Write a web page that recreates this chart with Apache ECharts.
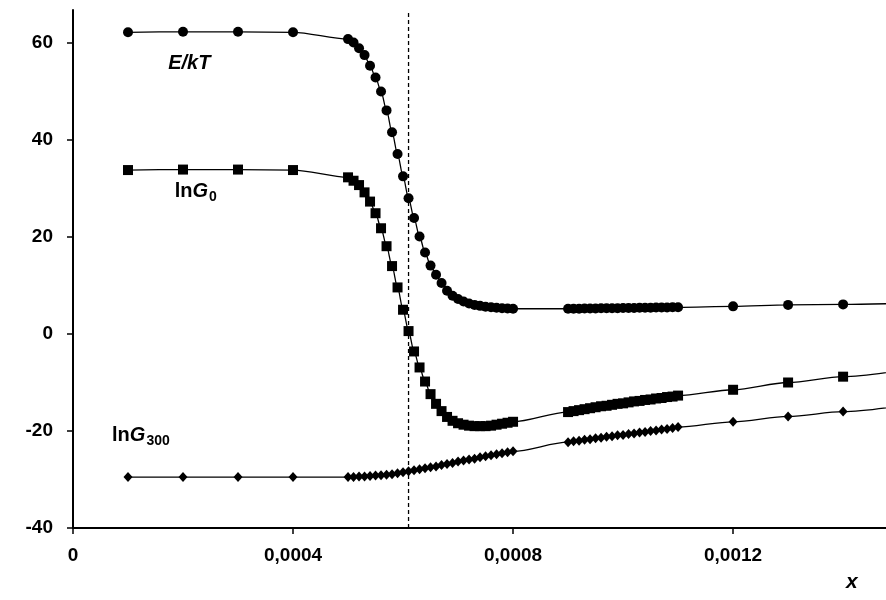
<!DOCTYPE html>
<html>
<head>
<meta charset="utf-8">
<script src="https://cdn.jsdelivr.net/npm/echarts@6/dist/echarts.min.js"></script>
<style>
  html, body { margin: 0; padding: 0; background: #fff; }
  #chart { width: 886px; height: 600px; }
</style>
</head>
<body>
<div id="chart"></div>
<script>
// x positions of the computed points
const xFlat = [0.0001, 0.0002, 0.0003, 0.0004];
const xDrop = [0.0005, 0.00051, 0.00052, 0.00053, 0.00054, 0.00055, 0.00056, 0.00057, 0.00058, 0.00059,
  0.0006, 0.00061, 0.00062, 0.00063, 0.00064, 0.00065, 0.00066, 0.00067, 0.00068, 0.00069,
  0.0007, 0.00071, 0.00072, 0.00073, 0.00074, 0.00075, 0.00076, 0.00077, 0.00078, 0.00079, 0.0008];
const xCluster = [0.0009, 0.00091, 0.00092, 0.00093, 0.00094, 0.00095, 0.00096, 0.00097, 0.00098, 0.00099,
  0.001, 0.00101, 0.00102, 0.00103, 0.00104, 0.00105, 0.00106, 0.00107, 0.00108, 0.00109, 0.0011];
const xTail = [0.0012, 0.0013, 0.0014, 0.0015];

// E/kT
const eFlat = [62.2, 62.3, 62.3, 62.2];
const eDrop = [60.8, 60.1, 58.9, 57.5, 55.3, 52.9, 50.0, 46.1, 41.6, 37.1,
  32.5, 28.0, 23.9, 20.1, 16.8, 14.1, 12.2, 10.5, 8.9, 7.9,
  7.2, 6.7, 6.3, 6.0, 5.8, 5.6, 5.5, 5.4, 5.3, 5.25, 5.2];
const eCluster = [5.2, 5.2, 5.2, 5.25, 5.25, 5.25, 5.3, 5.3, 5.3, 5.3,
  5.35, 5.35, 5.35, 5.4, 5.4, 5.4, 5.45, 5.45, 5.45, 5.5, 5.5];
const eTail = [5.7, 6.0, 6.1, 6.3];

// lnG0
const g0Flat = [33.8, 33.9, 33.9, 33.8];
const g0Drop = [32.3, 31.6, 30.7, 29.2, 27.3, 24.9, 21.8, 18.1, 14.0, 9.6,
  5.0, 0.6, -3.6, -6.9, -9.8, -12.4, -14.4, -15.9, -17.1, -17.9,
  -18.4, -18.7, -18.9, -19.0, -19.0, -19.0, -18.9, -18.7, -18.5, -18.3, -18.1];
const g0Cluster = [-16.1, -15.9, -15.7, -15.5, -15.3, -15.1, -14.9, -14.8, -14.6, -14.4,
  -14.3, -14.1, -13.9, -13.8, -13.6, -13.5, -13.3, -13.2, -13.0, -12.9, -12.7];
const g0Tail = [-11.5, -10.0, -8.8, -7.6];

// lnG300
const g3Flat = [-29.5, -29.5, -29.5, -29.5];
const g3Drop = [-29.5, -29.5, -29.4, -29.4, -29.3, -29.2, -29.1, -29.0, -28.9, -28.7,
  -28.5, -28.3, -28.1, -27.9, -27.7, -27.5, -27.3, -27.0, -26.8, -26.6,
  -26.3, -26.1, -25.9, -25.7, -25.4, -25.2, -25.0, -24.8, -24.6, -24.4, -24.2];
const g3Cluster = [-22.3, -22.1, -22.0, -21.8, -21.7, -21.5, -21.4, -21.2, -21.1, -20.9,
  -20.8, -20.6, -20.5, -20.3, -20.2, -20.0, -19.9, -19.7, -19.6, -19.4, -19.2];
const g3Tail = [-18.1, -17.0, -16.0, -14.9];

const xTicks = [0, 0.0004, 0.0008, 0.0012];
const yTicks = [-40, -20, 0, 20, 40, 60];
const yMin = -40, yMax = 66.8;
const transitionX = 0.00061;

const xAll = xFlat.concat(xDrop, xCluster, xTail);
function pairs(ys) { return xAll.map((x, i) => [x, ys[i]]); }

const FONT = 'Liberation Sans, Arial, sans-serif';
const richBase = {
  b: { fontFamily: FONT, fontWeight: 'bold', fontSize: 20, color: '#000', lineHeight: 24 },
  bi: { fontFamily: FONT, fontWeight: 'bold', fontStyle: 'italic', fontSize: 20, color: '#000', lineHeight: 24 },
  sub: { fontFamily: FONT, fontWeight: 'bold', fontSize: 14, color: '#000', lineHeight: 24, verticalAlign: 'bottom', padding: [10, 0, 0, 1] }
};

function textMark(coord, text) {
  return {
    coord: coord, symbol: 'rect', symbolSize: 1, itemStyle: { color: 'rgba(0,0,0,0)' },
    label: { show: true, position: 'inside', align: 'left', formatter: text, rich: richBase }
  };
}

function makeSeries(name, ys, symbol, size, extra) {
  return Object.assign({
    name: name,
    type: 'line',
    data: pairs(ys),
    smooth: 0.3,
    smoothMonotone: 'x',
    symbol: symbol,
    symbolSize: size,
    showAllSymbol: true,
    lineStyle: { color: '#000', width: 1.3 },
    itemStyle: { color: '#000' },
    clip: true
  }, extra || {});
}

const chart = echarts.init(document.getElementById('chart'));
chart.setOption({
  animation: false,
  backgroundColor: '#fff',
  grid: { left: 73, right: 0, top: 10, bottom: 72 },
  xAxis: {
    type: 'value', min: 0, max: 0.001478,
    axisLine: { onZero: false, lineStyle: { color: '#000', width: 2 } },
    axisTick: { show: true, length: 6, lineStyle: { color: '#000', width: 1.5 }, customValues: xTicks },
    axisLabel: {
      customValues: xTicks, margin: 18,
      fontFamily: FONT, fontWeight: 'bold', fontSize: 19, color: '#000',
      formatter: v => String(v).replace('.', ',')
    },
    splitLine: { show: false }
  },
  yAxis: {
    type: 'value', min: yMin, max: yMax,
    axisLine: { show: true, lineStyle: { color: '#000', width: 2 } },
    axisTick: { show: true, length: 6, lineStyle: { color: '#000', width: 1.5 }, customValues: yTicks },
    axisLabel: {
      customValues: yTicks, margin: 20,
      fontFamily: FONT, fontWeight: 'bold', fontSize: 19, color: '#000'
    },
    splitLine: { show: false }
  },
  graphic: [{
    type: 'text', left: 846, top: 572,
    style: { text: 'x', font: 'italic bold 21px ' + FONT, fill: '#000' }
  }],
  series: [
    {
      name: 'transition', type: 'line', silent: true, symbol: 'none',
      data: [[transitionX, yMin], [transitionX, yMax]],
      lineStyle: { color: '#000', type: [4, 3], width: 1.3 }
    },
    makeSeries('E/kT', eFlat.concat(eDrop, eCluster, eTail), 'circle', 10, {
      markPoint: { silent: true, data: [textMark([0.000173, 55.7], '{bi|E/kT}')] }
    }),
    makeSeries('lnG0', g0Flat.concat(g0Drop, g0Cluster, g0Tail), 'rect', 10, {
      markPoint: { silent: true, data: [textMark([0.000185, 29.3], '{b|ln}{bi|G}{sub|0}')] }
    }),
    makeSeries('lnG300', g3Flat.concat(g3Drop, g3Cluster, g3Tail), 'diamond', [9, 10], {
      markPoint: { silent: true, data: [textMark([0.000071, -21.0], '{b|ln}{bi|G}{sub|300}')] }
    })
  ]
});
</script>
</body>
</html>
